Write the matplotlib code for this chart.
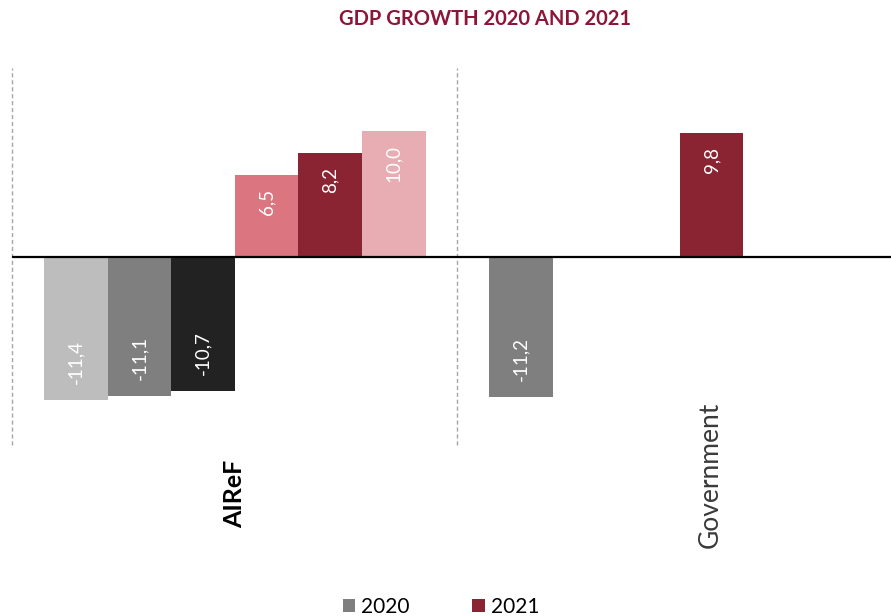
import numpy as np
import matplotlib
matplotlib.use("Agg")
import matplotlib.pyplot as plt
from matplotlib.patches import Patch

# Data
categories = ["AIReF", "Government"]
values_2020 = [[-11.4, -11.1, -10.7], [-11.2, np.nan, np.nan]]
values_2021 = [[6.5, 8.2, 10.0], [9.8, np.nan, np.nan]]
colors_2020 = [["#bdbdbd", "#7f7f7f", "#222222"], ["#7f7f7f", "#7f7f7f", "#7f7f7f"]]
colors_2021 = [["#db7580", "#8b2432", "#e8adb2"], ["#8b2432", "#8b2432", "#8b2432"]]
legend_labels = ["2020", "2021"]
legend_colors = ["#7f7f7f", "#8b2432"]
title = "GDP GROWTH 2020 AND 2021"

plt.rcParams["font.family"] = ["Lato", "DejaVu Sans"]

W, H = 891, 616
fig = plt.figure(figsize=(W / 100, H / 100), dpi=100)
ax = fig.add_axes([12 / W, 1 - 445 / H, (W - 12) / W, (445 - 68) / H])

cat_px = 445.0
pad = 32 / cat_px
bw = 63.6 / cat_px

for i, cat in enumerate(categories):
    slots = list(values_2020[i]) + list(values_2021[i])
    cols = list(colors_2020[i]) + list(colors_2021[i])
    for k, (v, c) in enumerate(zip(slots, cols)):
        if np.isnan(v):
            continue
        x = i - 0.5 + pad + (k + 0.5) * bw
        ax.bar(x, v, width=bw, color=c, linewidth=0)
        lab = f"{v:.1f}".replace(".", ",")
        if v >= 0:
            ax.annotate(lab, (x, v), xytext=(0, -14), textcoords="offset pixels",
                        rotation=90, ha="center", va="top", color="white", fontsize=13.5)
        else:
            ax.annotate(lab, (x, v), xytext=(0, 16), textcoords="offset pixels",
                        rotation=90, ha="center", va="bottom", color="white", fontsize=13.5)

ax.set_ylim(-15, 15)
ax.set_xlim(-0.5, -0.5 + (W - 12) / cat_px)
ax.axhline(0, color="black", lw=1.6, zorder=3)
for xb in [-0.5, 0.5, 1.5]:
    ax.plot([xb, xb], [-15, 15], color="#a6a6a6", lw=1.0, ls=(0, (3, 2)), clip_on=False)

for s in ax.spines.values():
    s.set_visible(False)
ax.set_xticks([])
ax.set_yticks([])

# category labels
ax.annotate(categories[0], (0, 0), xycoords=("data", "axes fraction"), xytext=(0, -15),
            textcoords="offset pixels", rotation=90, ha="center", va="top",
            fontsize=18, fontweight="bold", color="black", annotation_clip=False)
ax.annotate(categories[1], (1, 0), xycoords=("data", "axes fraction"), xytext=(31, 43),
            textcoords="offset pixels", rotation=90, ha="center", va="top",
            fontsize=19, fontweight="normal", color="#3a3a3a", annotation_clip=False)

fig.text(485 / W, 1 - 19 / H, title, ha="center", va="center", color="#8c1538",
         fontsize=14.5, fontweight="bold")

handles = [Patch(facecolor=c, edgecolor="none") for c in legend_colors]
fig.legend(handles, legend_labels, loc="center", bbox_to_anchor=(441 / W, 1 - 607 / H),
           ncol=2, frameon=False, fontsize=15, handlelength=0.6, handleheight=0.6,
           handletextpad=0.3, columnspacing=3.0, borderpad=0)

fig.savefig("out.png", dpi=100)
